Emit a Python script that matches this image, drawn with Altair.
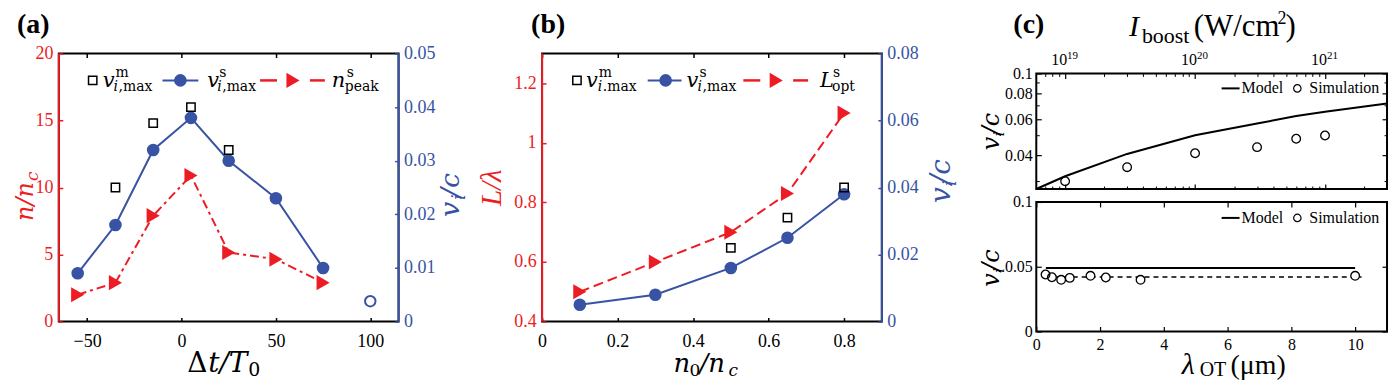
import altair as alt
import pandas as pd

RED = "#ed1c24"
BLUE = "#3853a4"
SERIF = "Liberation Serif"
MATH = "DejaVu Serif"

# ---------------- data ----------------
# panel (a)
a_dt = [-55, -35, -15, 5, 25, 50, 75]
a_v_sim = [0.009, 0.018, 0.032, 0.038, 0.030, 0.023, 0.010]
a_n_peak = [2.0, 2.9, 7.9, 10.9, 5.15, 4.65, 2.9]
a_dt_model = [-35, -15, 5, 25]
a_v_model = [0.025, 0.037, 0.040, 0.032]
a_dt_open = [100]
a_v_open = [0.0038]
a_x_ticks = [-50, 0, 50, 100]
a_n_ticks = [0, 5, 10, 15, 20]
a_v_ticks = [0, 0.01, 0.02, 0.03, 0.04, 0.05]

# panel (b)
b_n0 = [0.1, 0.3, 0.5, 0.65, 0.8]
b_v_sim = [0.005, 0.008, 0.016, 0.025, 0.038]
b_L_opt = [0.50, 0.60, 0.70, 0.83, 1.10]
b_n0_model = [0.5, 0.65, 0.8]
b_v_model = [0.022, 0.031, 0.040]
b_x_ticks = [0, 0.2, 0.4, 0.6, 0.8]
b_L_ticks = [0.4, 0.6, 0.8, 1.0, 1.2]
b_v_ticks = [0, 0.02, 0.04, 0.06, 0.08]

# panel (c) top: v_i/c vs I_boost
c_I_model = [6e18, 1e19, 3e19, 1e20, 3e20, 6e20, 1e21, 3e21]
c_v_model = [0.0275, 0.0317, 0.0407, 0.0501, 0.0572, 0.0621, 0.0652, 0.0715]
c_I_sim = [1e19, 3e19, 1e20, 3e20, 6e20, 1e21]
c_v_sim_top = [0.030, 0.0351, 0.041, 0.0439, 0.0482, 0.050]
c_I_major = [1e19, 1e20, 1e21]
c_I_base = ["10", "10", "10"]
c_I_exp = ["19", "20", "21"]
c_I_minor = [7e18, 8e18, 9e18, 2e19, 3e19, 4e19, 5e19, 6e19, 7e19, 8e19, 9e19,
             2e20, 3e20, 4e20, 5e20, 6e20, 7e20, 8e20, 9e20, 2e21]
c_v_major = [0.04, 0.06, 0.08, 0.1]
c_v_minor = [0.03, 0.05, 0.07, 0.09]

# panel (c) bottom: v_i/c vs lambda_OT
c_lam_sim = [0.29, 0.49, 0.78, 1.05, 1.70, 2.18, 3.27, 10.0]
c_v_sim_bot = [0.044, 0.0419, 0.0399, 0.0414, 0.0430, 0.0417, 0.0399, 0.043]
c_lam_model = [0.3, 10.0]
c_v_model_bot = [0.049, 0.049]
c_lam_fit = [0.3, 10.2]
c_v_fit = [0.042, 0.042]
c_lam_ticks = [0, 2, 4, 6, 8, 10]
c_vb_ticks = [0, 0.05, 0.1]

ONE = pd.DataFrame({"k": [0]})


def txt(s, x, y, size, color="black", font=SERIF, style="normal", weight="normal",
        angle=0, align="left"):
    return alt.Chart(ONE).mark_text(
        text=s, font=font, fontSize=size, fontStyle=style, fontWeight=weight,
        color=color, angle=angle, align=align, baseline="alphabetic"
    ).encode(x=alt.value(x), y=alt.value(y))


def seg(x1, x2, y1, y2, color, width=2, dash=None):
    kw = dict(color=color, strokeWidth=width)
    if dash:
        kw["strokeDash"] = dash
    return alt.Chart(ONE).mark_rule(**kw).encode(
        x=alt.value(x1), x2=alt.value(x2), y=alt.value(y1), y2=alt.value(y2))


def sym(x, y, shape, size, color, filled, sw=1.5):
    return alt.Chart(ONE).mark_point(
        shape=shape, size=size, filled=filled, color=color, strokeWidth=sw, opacity=1
    ).encode(x=alt.value(x), y=alt.value(y))


def ax(orient, values, labels=True, tick=4, color="black", size=18, pad=6, fmt=None, tw=1.5):
    kw = dict(orient=orient, values=values, offset=-tick, tickSize=tick, domain=False,
              grid=False, labels=labels, title=None, tickColor=color, tickWidth=tw,
              labelColor=color, labelFont=SERIF, labelFontSize=size, labelPadding=pad,
              labelFlush=False, labelOverlap=False)
    if fmt:
        kw["format"] = fmt
    return alt.Axis(**kw)


def spacer(w, h):
    return alt.Chart(ONE).mark_point(opacity=0).encode(
        x=alt.value(0), y=alt.value(0)
    ).properties(width=w, height=h, view=alt.ViewBackground(stroke="transparent"))


# ---------------- panel (a) ----------------
WA, HA = 341, 269
sxA = alt.Scale(domain=[-65, 115], nice=False, zero=False)
snA = alt.Scale(domain=[0, 20], nice=False, zero=False)
svA = alt.Scale(domain=[0, 0.05], nice=False, zero=False)
df_a = pd.DataFrame({"dt": a_dt, "v": a_v_sim, "n": a_n_peak})
df_am = pd.DataFrame({"dt": a_dt_model, "v": a_v_model})
df_ao = pd.DataFrame({"dt": a_dt_open, "v": a_v_open})

a_layers = [
    alt.Chart(df_a).mark_line(color=RED, strokeWidth=2, strokeDash=[9, 4, 3, 4]).encode(
        x=alt.X("dt:Q", scale=sxA, axis=ax("bottom", a_x_ticks, pad=11)),
        y=alt.Y("n:Q", scale=snA, axis=ax("left", a_n_ticks, color=RED, pad=6, fmt="d"))),
    alt.Chart(df_a).mark_point(shape="triangle-right", size=230, filled=True, color=RED, opacity=1).encode(
        x=alt.X("dt:Q", scale=sxA, axis=None), y=alt.Y("n:Q", scale=snA, axis=None)),
    alt.Chart(df_a).mark_line(color=BLUE, strokeWidth=2).encode(
        x=alt.X("dt:Q", scale=sxA, axis=ax("top", a_x_ticks, labels=False)),
        y=alt.Y("v:Q", scale=svA, axis=ax("right", a_v_ticks, color=BLUE, pad=5, fmt=".2~f"))),
    alt.Chart(df_a).mark_point(shape="circle", size=160, filled=True, color=BLUE, opacity=1).encode(
        x=alt.X("dt:Q", scale=sxA, axis=None), y=alt.Y("v:Q", scale=svA, axis=None)),
    alt.Chart(df_am).mark_point(shape="square", size=70, filled=False, color="black", strokeWidth=1.5, opacity=1).encode(
        x=alt.X("dt:Q", scale=sxA, axis=None), y=alt.Y("v:Q", scale=svA, axis=None)),
    alt.Chart(df_ao).mark_point(shape="circle", size=110, filled=False, color=BLUE, strokeWidth=2, opacity=1).encode(
        x=alt.X("dt:Q", scale=sxA, axis=None), y=alt.Y("v:Q", scale=svA, axis=None)),
]
a_deco = [
    seg(0, 0, 0, HA, RED, 2), seg(WA, WA, 0, HA, BLUE, 2),
    sym(-49, 235, "square", 4, "white", True),   # invisible layout anchor at left edge
    txt("(a)", -42, -21, 28, weight="bold"),
    # legend
    sym(34, 27, "square", 70, "black", False),
    txt("v", 44, 34, 21, font=MATH, style="italic"),
    txt("m", 57, 24, 14, font=MATH),
    txt("i", 55, 38, 14, font=MATH, style="italic"),
    txt(",max", 60, 38, 14, font=MATH),
    seg(104, 140, 27, 27, BLUE, 2), sym(122, 27, "circle", 160, BLUE, True),
    txt("v", 149, 34, 21, font=MATH, style="italic"),
    txt("s", 161, 24, 14, font=MATH),
    txt("i", 159, 38, 14, font=MATH, style="italic"),
    txt(",max", 164, 38, 14, font=MATH),
    seg(202, 219, 27, 27, RED, 2.5), seg(252, 267, 27, 27, RED, 2.5),
    sym(235, 27, "triangle-right", 230, RED, True),
    txt("n", 274, 34, 21, font=MATH, style="italic"),
    txt("s", 289, 24, 14, font=MATH),
    txt("peak", 287, 38, 14, font=MATH),
    # axis titles
    txt("n/n", -26, 168, 24, color=RED, font=MATH, style="italic", angle=270),
    txt("c", -21, 128, 17, color=RED, font=MATH, style="italic", angle=270),
    txt("v", 402, 164, 27, color=BLUE, font=MATH, style="italic", angle=270),
    txt("i", 408, 147, 18, color=BLUE, font=MATH, style="italic", angle=270),
    txt("/c", 402, 144, 27, color=BLUE, font=MATH, style="italic", angle=270),
    txt("\u0394", 129, 320, 28, font=MATH),
    txt("t/T", 150, 320, 28, font=MATH, style="italic"),
    txt("0", 190, 324, 19, font=MATH),
]
panel_a = alt.layer(*a_layers, *a_deco).resolve_scale(y="independent").resolve_axis(
    x="independent", y="independent").properties(width=WA, height=HA)

# ---------------- panel (b) ----------------
WB, HB = 341, 269
sxB = alt.Scale(domain=[0, 0.9], nice=False, zero=False)
sLB = alt.Scale(domain=[0.4, 1.3], nice=False, zero=False)
svB = alt.Scale(domain=[0, 0.08], nice=False, zero=False)
df_b = pd.DataFrame({"n0": b_n0, "v": b_v_sim, "L": b_L_opt})
df_bm = pd.DataFrame({"n0": b_n0_model, "v": b_v_model})

b_layers = [
    alt.Chart(df_b).mark_line(color=RED, strokeWidth=2, strokeDash=[10, 5]).encode(
        x=alt.X("n0:Q", scale=sxB, axis=ax("bottom", b_x_ticks, pad=11, fmt="~g")),
        y=alt.Y("L:Q", scale=sLB, axis=ax("left", b_L_ticks, color=RED, pad=6, fmt="~g"))),
    alt.Chart(df_b).mark_point(shape="triangle-right", size=230, filled=True, color=RED, opacity=1).encode(
        x=alt.X("n0:Q", scale=sxB, axis=None), y=alt.Y("L:Q", scale=sLB, axis=None)),
    alt.Chart(df_b).mark_line(color=BLUE, strokeWidth=2).encode(
        x=alt.X("n0:Q", scale=sxB, axis=ax("top", b_x_ticks, labels=False)),
        y=alt.Y("v:Q", scale=svB, axis=ax("right", b_v_ticks, color=BLUE, pad=5, fmt=".2~f"))),
    alt.Chart(df_b).mark_point(shape="circle", size=160, filled=True, color=BLUE, opacity=1).encode(
        x=alt.X("n0:Q", scale=sxB, axis=None), y=alt.Y("v:Q", scale=svB, axis=None)),
    alt.Chart(df_bm).mark_point(shape="square", size=70, filled=False, color="black", strokeWidth=1.5, opacity=1).encode(
        x=alt.X("n0:Q", scale=sxB, axis=None), y=alt.Y("v:Q", scale=svB, axis=None)),
]
b_deco = [
    seg(0, 0, 0, HB, RED, 2), seg(WB, WB, 0, HB, BLUE, 2),
    txt("(b)", -11, -21, 28, weight="bold"),
    sym(35, 27, "square", 70, "black", False),
    txt("v", 44, 34, 21, font=MATH, style="italic"),
    txt("m", 57, 24, 14, font=MATH),
    txt("i", 56, 38, 14, font=MATH, style="italic"),
    txt(".max", 61, 38, 14, font=MATH),
    seg(106, 140, 27, 27, BLUE, 2), sym(124, 27, "circle", 160, BLUE, True),
    txt("v", 145, 34, 21, font=MATH, style="italic"),
    txt("s", 158, 24, 14, font=MATH),
    txt("i", 156, 38, 14, font=MATH, style="italic"),
    txt(",max", 161, 38, 14, font=MATH),
    seg(202, 219, 27, 27, RED, 2.5), seg(252, 267, 27, 27, RED, 2.5),
    sym(235, 27, "triangle-right", 230, RED, True),
    txt("L", 279, 34, 21, font=MATH, style="italic"),
    txt("s", 292, 24, 14, font=MATH),
    txt("opt", 291, 38, 14, font=MATH),
    txt("L/\u03bb", -41, 153, 29, color=RED, style="italic", angle=270),
    txt("v", 409, 150, 28, color=BLUE, font=MATH, style="italic", angle=270),
    txt("i", 415, 133, 18, color=BLUE, font=MATH, style="italic", angle=270),
    txt("/c", 409, 131, 28, color=BLUE, font=MATH, style="italic", angle=270),
    txt("n", 132, 320, 26, font=MATH, style="italic"),
    txt("0", 148, 324, 17, font=MATH),
    txt("/n", 158, 320, 26, font=MATH, style="italic"),
    txt("c", 187, 324, 17, font=MATH, style="italic"),
]
panel_b = alt.layer(*b_layers, *b_deco).resolve_scale(y="independent").resolve_axis(
    x="independent", y="independent").properties(width=WB, height=HB)

# ---------------- panel (c) top ----------------
WC, HC1, HC2 = 352, 116, 130
sxI = alt.Scale(type="log", domain=[6e18, 3e21], nice=False)
syT = alt.Scale(type="log", domain=[0.0275, 0.1], nice=False)
df_cm = pd.DataFrame({"I": c_I_model, "v": c_v_model})
df_cs = pd.DataFrame({"I": c_I_sim, "v": c_v_sim_top})
df_cl = pd.DataFrame({"I": c_I_major, "base": c_I_base, "exp": c_I_exp})

c_top = alt.layer(
    alt.Chart(df_cm).mark_line(color="black", strokeWidth=2).encode(
        x=alt.X("I:Q", scale=sxI, axis=ax("top", c_I_major, labels=False, tick=5, tw=1.2)),
        y=alt.Y("v:Q", scale=syT, axis=ax("left", c_v_major, size=16, pad=4, fmt=".2~f", tick=5, tw=1.2))),
    alt.Chart(df_cs).mark_point(shape="circle", size=75, filled=False, color="black", strokeWidth=1.3, opacity=1).encode(
        x=alt.X("I:Q", scale=sxI, axis=ax("top", c_I_minor, labels=False, tick=3, tw=1)),
        y=alt.Y("v:Q", scale=syT, axis=ax("left", c_v_minor, labels=False, tick=3, tw=1))),
    alt.Chart(df_cm).mark_point(opacity=0).encode(
        x=alt.X("I:Q", scale=sxI, axis=ax("bottom", c_I_major, labels=False, tick=5, tw=1.2)),
        y=alt.Y("v:Q", scale=syT, axis=ax("right", c_v_major, labels=False, tick=5, tw=1.2))),
    alt.Chart(df_cm).mark_point(opacity=0).encode(
        x=alt.X("I:Q", scale=sxI, axis=ax("bottom", c_I_minor, labels=False, tick=3, tw=1)),
        y=alt.Y("v:Q", scale=syT, axis=ax("right", c_v_minor, labels=False, tick=3, tw=1))),
    alt.Chart(df_cl).mark_text(font=SERIF, fontSize=16, align="center", baseline="alphabetic", dx=-6).encode(
        x=alt.X("I:Q", scale=sxI, axis=None), y=alt.value(-8), text="base:N"),
    alt.Chart(df_cl).mark_text(font=SERIF, fontSize=11, align="left", baseline="alphabetic", dx=2).encode(
        x=alt.X("I:Q", scale=sxI, axis=None), y=alt.value(-14), text="exp:N"),
    seg(186, 204, 15, 15, "black", 2),
    txt("Model", 206, 20, 16),
    sym(262, 15, "circle", 55, "black", False, 1.2),
    txt("Simulation", 274, 20, 16),
    txt("(c)", -23, -41, 28, weight="bold"),
    txt("I", 93, -38, 30, style="italic"),
    txt("boost", 106, -31, 22),
    txt("(W/cm", 158, -38, 31),
    txt("2", 242, -50, 18),
    txt(")", 250, -38, 31),
    txt("v", -37, 77, 24, font=MATH, style="italic", angle=270),
    txt("i", -32, 63, 15, font=MATH, style="italic", angle=270),
    txt("/c", -37, 61, 24, font=MATH, style="italic", angle=270),
).resolve_axis(x="independent", y="independent").properties(width=WC, height=HC1)

# ---------------- panel (c) bottom ----------------
sxL = alt.Scale(domain=[0, 11], nice=False, zero=False)
syB = alt.Scale(domain=[0, 0.1], nice=False, zero=False)
df_bs = pd.DataFrame({"lam": c_lam_sim, "v": c_v_sim_bot})
df_bmod = pd.DataFrame({"lam": c_lam_model, "v": c_v_model_bot})
df_bfit = pd.DataFrame({"lam": c_lam_fit, "v": c_v_fit})

c_bot = alt.layer(
    alt.Chart(df_bmod).mark_line(color="black", strokeWidth=2).encode(
        x=alt.X("lam:Q", scale=sxL, axis=ax("bottom", c_lam_ticks, size=16, pad=5, tick=5, tw=1.2)),
        y=alt.Y("v:Q", scale=syB, axis=ax("left", c_vb_ticks, size=16, pad=4, fmt=".2~f", tick=5, tw=1.2))),
    alt.Chart(df_bfit).mark_line(color="black", strokeWidth=1.5, strokeDash=[5, 4]).encode(
        x=alt.X("lam:Q", scale=sxL, axis=ax("top", c_lam_ticks, labels=False, tick=5, tw=1.2)),
        y=alt.Y("v:Q", scale=syB, axis=ax("right", c_vb_ticks, labels=False, tick=5, tw=1.2))),
    alt.Chart(df_bs).mark_point(shape="circle", size=75, filled=True, color="white", opacity=1).encode(
        x=alt.X("lam:Q", scale=sxL, axis=None), y=alt.Y("v:Q", scale=syB, axis=None)),
    alt.Chart(df_bs).mark_point(shape="circle", size=75, filled=False, color="black", strokeWidth=1.3, opacity=1).encode(
        x=alt.X("lam:Q", scale=sxL, axis=None), y=alt.Y("v:Q", scale=syB, axis=None)),
    seg(186, 204, 16, 16, "black", 2),
    txt("Model", 206, 21, 16),
    sym(262, 16, "circle", 55, "black", False, 1.2),
    txt("Simulation", 274, 21, 16),
    txt("v", -37, 85, 24, font=MATH, style="italic", angle=270),
    txt("i", -32, 71, 15, font=MATH, style="italic", angle=270),
    txt("/c", -37, 69, 24, font=MATH, style="italic", angle=270),
    txt("\u03bb", 146, 173, 30, style="italic"),
    txt("OT", 164, 175, 20),
    txt("(\u03bcm)", 195, 173, 28),
).resolve_axis(x="independent", y="independent").properties(width=WC, height=HC2)

c_col = alt.vconcat(spacer(WC, 7), c_top, c_bot, spacing=13, bounds="flush")

chart = alt.hconcat(
    panel_a, spacer(144, 10), panel_b, spacer(155, 10), c_col,
    spacing=0, bounds="flush",
    padding={"left": 0, "top": 0, "right": 0, "bottom": 0}
).configure_view(stroke="black", strokeWidth=2)

chart.save("out.html", embed_options={"renderer": "svg", "actions": False})
